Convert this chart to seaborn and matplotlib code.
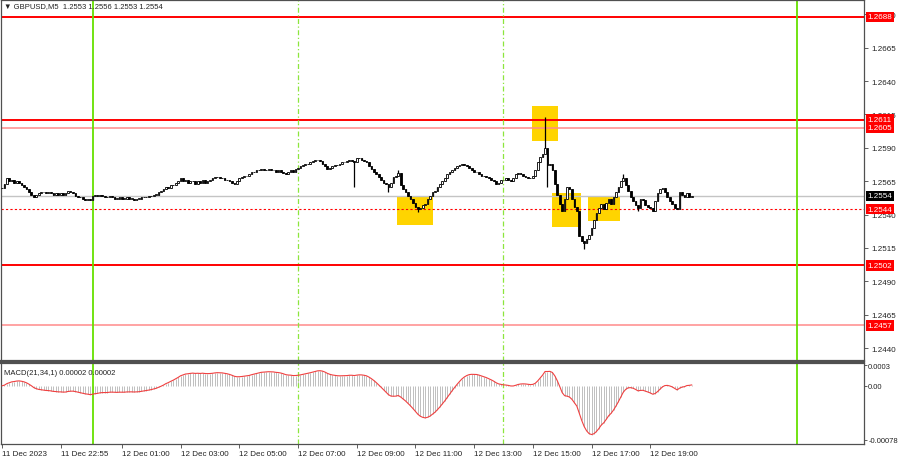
import numpy as np
import pandas as pd
import matplotlib
matplotlib.use("Agg")
import matplotlib.pyplot as plt
from matplotlib.patches import Rectangle
import seaborn as sns

# ---------------- data ----------------
header_text = "\u25bc GBPUSD,M5  1.2553 1.2556 1.2553 1.2554"
macd_text = "MACD(21,34,1) 0.00002 0.00002"
first_bar_time = "2023-12-11 20:55"

# M5 closes, one row per hour (12 bars)
closes = [
    1.2560, 1.2563, 1.2567, 1.2565, 1.2566, 1.2564, 1.2565, 1.2564, 1.2562, 1.2561, 1.2559, 1.2557,
    1.2555, 1.2553, 1.2555, 1.2556, 1.2557, 1.2557, 1.2556, 1.2557, 1.2556, 1.2555, 1.2556, 1.2555,
    1.2556, 1.2555, 1.2556, 1.2558, 1.2557, 1.2556, 1.2554, 1.2553, 1.2553, 1.2552, 1.2551, 1.2552,
    1.2551, 1.2554, 1.2555, 1.2554, 1.2555, 1.2554, 1.2553, 1.2553, 1.2554, 1.2553, 1.2552, 1.2552,
    1.2553, 1.2552, 1.2552, 1.2553, 1.2552, 1.2552, 1.2551, 1.2552, 1.2552, 1.2553, 1.2553, 1.2553,
    1.2554, 1.2554, 1.2555, 1.2555, 1.2557, 1.2558, 1.2559, 1.2561, 1.2560, 1.2562, 1.2562, 1.2564,
    1.2565, 1.2567, 1.2565, 1.2566, 1.2564, 1.2565, 1.2565, 1.2563, 1.2565, 1.2564, 1.2566, 1.2564,
    1.2565, 1.2566, 1.2567, 1.2568, 1.2568, 1.2567, 1.2567, 1.2566, 1.2566, 1.2565, 1.2564, 1.2563,
    1.2565, 1.2567, 1.2568, 1.2569, 1.2569, 1.2570, 1.2572, 1.2572, 1.2573, 1.2573, 1.2574, 1.2573,
    1.2573, 1.2574, 1.2573, 1.2573, 1.2572, 1.2573, 1.2572, 1.2571, 1.2570, 1.2572, 1.2573, 1.2572,
    1.2574, 1.2575, 1.2576, 1.2577, 1.2578, 1.2578, 1.2579, 1.2580, 1.2581, 1.2581, 1.2580, 1.2578,
    1.2576, 1.2574, 1.2575, 1.2576, 1.2577, 1.2577, 1.2578, 1.2579, 1.2579, 1.2580, 1.2581, 1.2580,
    1.2579, 1.2582, 1.2582, 1.2581, 1.2580, 1.2579, 1.2576, 1.2574, 1.2572, 1.2570, 1.2568, 1.2566,
    1.2564, 1.2563, 1.2561, 1.2564, 1.2568, 1.2569, 1.2571, 1.2562, 1.2559, 1.2557, 1.2554, 1.2552,
    1.2549, 1.2546, 1.2544, 1.2545, 1.2547, 1.2548, 1.2552, 1.2554, 1.2557, 1.2558, 1.2561, 1.2563,
    1.2565, 1.2567, 1.2570, 1.2572, 1.2573, 1.2575, 1.2576, 1.2577, 1.2578, 1.2577, 1.2576, 1.2575,
    1.2573, 1.2572, 1.2572, 1.2570, 1.2569, 1.2569, 1.2568, 1.2567, 1.2566, 1.2565, 1.2563, 1.2564,
    1.2566, 1.2566, 1.2567, 1.2566, 1.2565, 1.2567, 1.2570, 1.2571, 1.2570, 1.2569, 1.2568, 1.2567,
    1.2567, 1.2569, 1.2573, 1.2579, 1.2583, 1.2585, 1.2590, 1.2577, 1.2578, 1.2573, 1.2563, 1.2555,
    1.2548, 1.2543, 1.2552, 1.2561, 1.2559, 1.2552, 1.2546, 1.2543, 1.2524, 1.2520, 1.2519, 1.2522,
    1.2525, 1.2530, 1.2536, 1.2541, 1.2545, 1.2548, 1.2544, 1.2549, 1.2552, 1.2548, 1.2553, 1.2557,
    1.2561, 1.2565, 1.2567, 1.2562, 1.2558, 1.2553, 1.2550, 1.2547, 1.2545, 1.2552, 1.2551, 1.2547,
    1.2546, 1.2545, 1.2543, 1.2550, 1.2556, 1.2559, 1.2560, 1.2557, 1.2553, 1.2550, 1.2548, 1.2545,
    1.2544, 1.2557, 1.2555, 1.2553, 1.2556, 1.2553, 1.2554,
]
# notable wick extremes (bar index -> price)
high_bars = [162, 222, 254]
high_vals = [1.2573, 1.2613, 1.2570]
low_bars = [144, 158, 170, 223, 238, 260]
low_vals = [1.2561, 1.2557, 1.2542, 1.2561, 1.2514, 1.2543]

# horizontal levels
level_prices = [1.2688, 1.2611, 1.2605, 1.2502, 1.2457]
level_labels = ["1.2688", "1.2611", "1.2605", "1.2502", "1.2457"]
dotted_price, dotted_label = 1.2544, "1.2544"
current_price, current_label = 1.2554, "1.2554"

# price axis ticks
ytick_vals = [1.2440, 1.2465, 1.2490, 1.2515, 1.2540, 1.2565, 1.2590, 1.2615, 1.2640, 1.2665, 1.2690]
ytick_labels = ["1.2440", "1.2465", "1.2490", "1.2515", "1.2540", "1.2565", "1.2590",
                "1.2615", "1.2640", "1.2665", "1.2690"]
macd_tick_vals = [0.0003, 0.0, -0.00078]
macd_tick_labels = ["0.0003", "0.00", "-0.00078"]

# time axis
xtick_times = ["2023-12-11 20:55", "2023-12-11 22:55", "2023-12-12 01:00", "2023-12-12 03:00",
               "2023-12-12 05:00", "2023-12-12 07:00", "2023-12-12 09:00", "2023-12-12 11:00",
               "2023-12-12 13:00", "2023-12-12 15:00", "2023-12-12 17:00", "2023-12-12 19:00"]
xtick_labels = ["11 Dec 2023", "11 Dec 22:55", "12 Dec 01:00", "12 Dec 03:00", "12 Dec 05:00",
                "12 Dec 07:00", "12 Dec 09:00", "12 Dec 11:00", "12 Dec 13:00", "12 Dec 15:00",
                "12 Dec 17:00", "12 Dec 19:00"]
day_separators = ["2023-12-12 00:00", "2023-12-13 00:00"]
session_lines = ["2023-12-12 07:00", "2023-12-12 14:00"]

# highlighted boxes (time start, time end, price low, price high)
box_t0 = ["2023-12-12 10:22:30", "2023-12-12 14:58:30", "2023-12-12 15:39:30", "2023-12-12 16:53:00"]
box_t1 = ["2023-12-12 11:36:00", "2023-12-12 15:51:30", "2023-12-12 16:38:30", "2023-12-12 17:58:30"]
box_lo = [1.2532, 1.2595, 1.2531, 1.2535]
box_hi = [1.2553, 1.2621, 1.2556, 1.2553]

# ---------------- build frame ----------------
t0 = pd.Timestamp(first_bar_time)
step = pd.Timedelta(minutes=5)


def bar_of(ts):
    return (pd.Timestamp(ts) - t0) / step


df = pd.DataFrame({"close": closes})
df["bar"] = np.arange(len(df))
df["open"] = df["close"].shift(1).fillna(df["close"].iloc[0])
df["high"] = df[["open", "close"]].max(axis=1)
df["low"] = df[["open", "close"]].min(axis=1)
for b, v in zip(high_bars, high_vals):
    df.loc[b, "high"] = max(df.loc[b, "high"], v)
for b, v in zip(low_bars, low_vals):
    df.loc[b, "low"] = min(df.loc[b, "low"], v)
ema_fast = df["close"].ewm(span=21, adjust=False).mean()
ema_slow = df["close"].ewm(span=34, adjust=False).mean()
df["macd"] = ema_fast - ema_slow

# ---------------- style ----------------
sns.set_style("white")
plt.rcParams["font.family"] = ["Liberation Sans", "DejaVu Sans"]
FS = 5.8
TXT = "#222222"
RED = "#FF0000"
PINK = "#FF8A8A"
GREEN = "#66E000"

fig = plt.figure(figsize=(9, 4.6), dpi=100)
fig.patch.set_facecolor("white")
ax = fig.add_axes([1 / 900, 98 / 460, 863 / 900, 361 / 460])
axm = fig.add_axes([1 / 900, 15 / 460, 863 / 900, 81 / 460], sharex=ax)

xmin, xmax = -0.41, 352.4
ax.set_xlim(xmin, xmax)
ax.set_ylim(1.24303, 1.27007)
axm.set_ylim(-0.00084, 0.00033)

# boxes
for a, b, lo, hi in zip(box_t0, box_t1, box_lo, box_hi):
    x0, x1 = bar_of(a), bar_of(b)
    ax.add_patch(Rectangle((x0, lo), x1 - x0, hi - lo, facecolor="#FFD400",
                           edgecolor="none", zorder=1))

# horizontal levels
level_colors = [RED, RED, PINK, RED, PINK]
level_lw = [1.4, 1.4, 1.1, 1.4, 1.1]
for p, c, lw in zip(level_prices, level_colors, level_lw):
    ax.axhline(p, color=c, lw=lw, zorder=2)
ax.axhline(current_price, color="#C4C4C4", lw=1.0, zorder=1.5)
ax.axhline(dotted_price, color=RED, lw=0.8, ls=(0, (2, 2)), zorder=2)

# vertical separators
for axx in (ax, axm):
    for t in day_separators:
        axx.axvline(bar_of(t), color=GREEN, lw=1.3, zorder=2)
    for t in session_lines:
        axx.axvline(bar_of(t), color="#8CE63C", lw=0.9, ls=(0, (4, 2, 1, 2)), zorder=2)

# candles
ax.vlines(df["bar"], df["low"], df["high"], color="black", lw=0.9, zorder=3)
bull = df["close"] >= df["open"]
body_h = (df["close"] - df["open"]).abs().clip(lower=0.00002)
body_b = df[["open", "close"]].min(axis=1)
ax.bar(df["bar"][bull], body_h[bull], bottom=body_b[bull], width=0.7,
       facecolor="white", edgecolor="black", linewidth=0.6, zorder=4)
ax.bar(df["bar"][~bull], body_h[~bull], bottom=body_b[~bull], width=0.7,
       facecolor="black", edgecolor="black", linewidth=0.6, zorder=4)

# price axis on the right
ax.yaxis.tick_right()
ax.set_yticks(ytick_vals)
ax.set_yticklabels(ytick_labels)
ax.tick_params(axis="y", direction="out", length=3, width=0.6, color="#444444",
               labelsize=FS, labelcolor=TXT, pad=2, right=True, left=False)
ax.tick_params(axis="x", bottom=False, labelbottom=False)


def price_tag(axis, y, text, bg):
    axis.annotate(text, xy=(1.0, y), xycoords=("axes fraction", "data"),
                  xytext=(2.6, 0), textcoords="offset points", ha="left", va="center",
                  fontsize=FS, color="white", zorder=10, annotation_clip=False,
                  bbox=dict(boxstyle="square,pad=0.22", facecolor=bg, edgecolor="none"))


for p, lab in zip(level_prices, level_labels):
    price_tag(ax, p, lab, RED)
price_tag(ax, dotted_price, dotted_label, RED)
price_tag(ax, current_price, current_label, "black")

ax.text(0.004, 0.993, header_text, transform=ax.transAxes, ha="left", va="top",
        fontsize=5.5, color=TXT, zorder=10)

# MACD panel
axm.vlines(df["bar"], 0, df["macd"], color="#BEBEBE", lw=0.7, zorder=1)
sns.lineplot(x=df["bar"], y=df["macd"], ax=axm, color="#F04040", lw=0.8, zorder=3,
             legend=False)
axm.set_xlabel("")
axm.set_ylabel("")
ax.set_ylabel("")
axm.yaxis.tick_right()
axm.set_yticks(macd_tick_vals)
axm.set_yticklabels(macd_tick_labels)
axm.tick_params(axis="y", direction="out", length=2, width=0.6, color="#444444",
                labelsize=5.5, labelcolor=TXT, pad=1, right=True, left=False)
axm.text(0.004, 0.93, macd_text, transform=axm.transAxes, ha="left", va="top",
         fontsize=5.5, color=TXT, zorder=10)

axm.set_xticks([bar_of(t) for t in xtick_times])
axm.set_xticklabels(xtick_labels, ha="left")
axm.tick_params(axis="x", direction="out", length=3, width=0.6, color="#444444",
                labelsize=FS, labelcolor=TXT, pad=1.5, bottom=True)
axm.set_xlim(xmin, xmax)

for axx in (ax, axm):
    for s in axx.spines.values():
        s.set_color("#505050")
        s.set_linewidth(0.9)
    axx.grid(False)
ax.spines["bottom"].set_linewidth(1.6)
axm.spines["top"].set_linewidth(1.6)

fig.savefig("out.png", dpi=100, facecolor="white")
